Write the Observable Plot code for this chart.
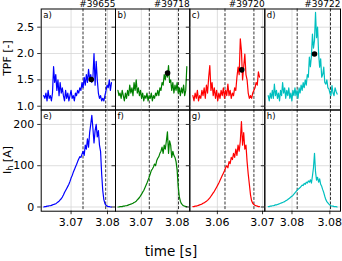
<!DOCTYPE html>
<html><head><meta charset="utf-8">
<script src="https://cdn.jsdelivr.net/npm/d3@7"></script>
<script src="https://cdn.jsdelivr.net/npm/@observablehq/plot@0.6"></script>
<style>
html,body{margin:0;padding:0;background:#fff;}
#fig{position:relative;width:342px;height:261px;font-family:"DejaVu Sans",sans-serif;overflow:hidden;}
#fig svg{position:absolute;left:0;top:0;overflow:visible;}
</style></head><body><div id="fig"></div>
<script>
// ---------- data ----------
const shots = ["#39655", "#39718", "#39720", "#39722"];
const letters = [["a)", "b)", "c)", "d)"], ["e)", "f)", "g)", "h)"]];
const colors = ["#0000ff", "#008000", "#ff0000", "#00bfbf"];
const xDomains = [[3.0618, 3.0822], [3.0628, 3.0835], [3.0539, 3.0705], [3.06859, 3.08699]];
const xTicks = [[3.07, 3.08], [3.07, 3.08], [3.06, 3.07], [3.0752, 3.0844]];
const tStart = [3.0625, 3.06347, 3.05458, 3.06942];
const tStep = [0.0003, 0.0003, 0.00025, 0.00025];

const tpfA = [1.2,1.15,1.25,1.1,1.3,1.15,1.2,1.1,1.25,1.75,1.45,1.6,1.3,1.5,1.2,1.45,1.25,1.35,1.2,1.1,1.3,1.15,1.25,1.1,1.2,1.3,1.15,1.2,1.1,1.25,1.2,1.3,1.25,1.35,1.3,1.45,1.35,1.55,1.4,1.6,1.45,1.7,1.5,1.6,1.45,1.55,2.0,1.4,1.85,1.5,1.25,1.15,1.2,1.1,1.15,1.1,1.2,1.3,1.4,1.35,1.5,1.3,1.45];
const tpfB = [1.3,1.2,1.25,1.15,1.3,1.2,1.1,1.25,1.15,1.3,1.2,1.4,1.25,1.35,1.2,1.45,1.3,1.5,1.25,1.35,1.2,1.3,1.15,1.25,1.1,1.2,1.15,1.25,1.1,1.2,1.15,1.25,1.1,1.2,1.15,1.25,1.2,1.3,1.2,1.35,1.3,1.45,1.4,1.6,1.5,1.65,1.55,1.77,1.45,1.5,1.3,1.45,1.25,1.4,1.3,1.45,1.25,1.35,1.2,1.35,1.25,1.4,1.2,1.3,1.75];
const tpfC = [1.2,1.1,1.25,1.15,1.3,1.1,1.2,1.15,1.3,1.2,1.35,1.15,1.4,1.25,1.55,1.77,1.3,1.45,1.2,1.35,1.15,1.3,1.1,1.25,1.15,1.3,1.2,1.35,1.15,1.3,1.2,1.42,1.2,1.3,1.15,1.25,1.2,1.35,1.3,1.55,1.74,1.6,2.28,2.05,1.5,1.75,1.99,1.6,1.5,1.25,1.15,1.2,1.15,1.25,1.3,1.35,1.45,1.4,1.65,1.55];
const tpfD = [1.2,1.1,1.25,1.15,1.3,1.15,1.42,1.2,1.3,1.15,1.25,1.1,1.3,1.2,1.45,1.25,1.35,1.15,1.3,1.2,1.35,1.15,1.25,1.1,1.3,1.2,1.35,1.2,1.3,1.15,1.35,1.25,1.4,1.3,1.45,1.35,1.5,1.4,1.6,1.55,1.93,1.75,1.95,2.37,2.1,2.25,2.78,2.3,2.5,2.0,1.74,1.9,1.55,1.6,1.74,1.45,1.42,1.5,1.35,1.33,1.25,1.2,1.39,1.25,1.2,1.35,1.28,1.23];

const ihA = [0,1,1,2,2,3,3,4,5,6,7,8,10,12,14,17,20,24,29,35,40,45,50,55,62,70,76,84,90,97,103,110,116,122,120,128,135,125,150,140,165,145,180,200,222,190,155,185,200,170,185,150,135,80,40,18,8,4,2,1,1,0,0];
const ihB = [0,0,1,1,1,2,2,3,3,4,5,6,7,8,9,11,12,14,17,20,23,27,31,36,40,46,52,58,65,72,80,88,92,97,104,100,112,118,122,130,135,145,130,150,140,160,182,130,160,150,120,135,125,120,110,90,50,25,14,8,5,3,2,1,1];
const ihC = [1,1,2,2,3,4,5,6,7,9,10,12,14,16,19,22,26,30,34,38,43,48,53,58,64,70,76,82,88,95,100,95,110,105,120,115,130,120,140,125,150,135,160,207,150,180,140,150,110,80,55,30,15,9,6,4,3,2,1,1];
const ihD = [1,1,2,2,3,3,4,5,5,6,7,8,9,10,11,12,13,15,16,18,20,22,24,26,28,31,34,37,40,43,45,47,50,53,52,57,55,60,58,63,60,66,58,75,95,130,85,65,72,60,68,55,50,42,35,26,18,13,10,7,5,3,2,2,1,1,1,0];

const markerT = [3.07555, 3.07731, 3.0654, 3.08067];
const markerTPF = [1.506, 1.63, 1.69, 1.99];
const dashT = [[3.07328, 3.07951], [3.07222, 3.08036], [3.06169, 3.06809], [3.07646, 3.08456]];

const tpfDomain = [0.928, 2.845], tpfTicks = [1.0, 1.5, 2.0, 2.5];
const ihDomain = [-10.2, 235], ihTicks = [0, 100, 200];

// ---------- layout ----------
const W = 342, H = 261;
const colL = [40.7, 115, 189.3, 264.3], colR = [115, 189.3, 264.3, 340];
const rowT = [8.5, 109.5], rowB = [109.5, 210.7];
const tpfSeries = [tpfA, tpfB, tpfC, tpfD], ihSeries = [ihA, ihB, ihC, ihD];
const fig = document.getElementById("fig");
const grid = {stroke: "#d6d6d6", strokeOpacity: 1, strokeWidth: 0.8};

for (let r = 0; r < 2; r++) for (let c = 0; c < 4; c++) {
  const vals = (r === 0 ? tpfSeries : ihSeries)[c];
  const data = vals.map((v, i) => ({t: tStart[c] + i * tStep[c], v}));
  const yDom = r === 0 ? tpfDomain : ihDomain;
  const yT = r === 0 ? tpfTicks : ihTicks;
  const yFmt = r === 0 ? d3.format(".1f") : d3.format("d");
  const marks = [
    Plot.gridX({ticks: xTicks[c], ...grid}),
    Plot.gridY({ticks: yT, ...grid}),
    Plot.ruleX(dashT[c], {stroke: "#000", strokeWidth: 0.8, strokeDasharray: "3,1.6"}),
    Plot.line(data, {x: "t", y: "v", stroke: colors[c], strokeWidth: 1.2, clip: true}),
    Plot.axisY({ticks: yT, tickSize: 3.5, tickPadding: 3.5, tickFormat: c === 0 ? yFmt : () => "", fontSize: 11, label: null, stroke: "#000", strokeWidth: 0.8}),
    Plot.frame({stroke: "#000", strokeWidth: 1}),
    Plot.text([letters[r][c]], {frameAnchor: "top-left", dx: 2, dy: 3, fontSize: 8.5, textAnchor: "start", lineAnchor: "top", fill: "#000"})
  ];
  if (r === 0) {
    marks.push(Plot.dot([{t: markerT[c], v: markerTPF[c]}], {x: "t", y: "v", r: 2.8, fill: "#000"}));
    marks.push(Plot.text([shots[c]], {frameAnchor: "top-right", dy: -2, lineAnchor: "bottom", textAnchor: "end", fontSize: 9, fill: "#000"}));
  } else {
    marks.push(Plot.axisX({ticks: xTicks[c], tickSize: 3.5, tickPadding: 3.5, tickFormat: d3.format(".2f"), fontSize: 11, label: null, stroke: "#000", strokeWidth: 0.8}));
  }
  const svg = Plot.plot({
    width: W, height: H,
    marginLeft: colL[c], marginRight: W - colR[c], marginTop: rowT[r], marginBottom: H - rowB[r],
    x: {domain: xDomains[c], axis: null},
    y: {domain: yDom, axis: null},
    style: {background: "transparent", fontFamily: "DejaVu Sans", color: "#000", overflow: "visible"},
    marks
  });
  fig.appendChild(svg);
}

// axis titles
const ov = d3.select(fig).append("svg").attr("width", W).attr("height", H)
  .style("font-family", "DejaVu Sans");
ov.append("text").attr("transform", "translate(11,58) rotate(-90)").attr("text-anchor", "middle")
  .attr("font-size", 11).attr("fill", "#000").text("TPF [-]");
const ih = ov.append("text").attr("transform", "translate(11,160) rotate(-90)").attr("text-anchor", "middle")
  .attr("font-size", 11).attr("fill", "#000");
ih.append("tspan").text("I");
ih.append("tspan").attr("font-size", 8).attr("dy", 2.2).text("h");
ih.append("tspan").attr("dy", -2.2).text(" [A]");
ov.append("text").attr("x", 171).attr("y", 256).attr("text-anchor", "middle")
  .attr("font-size", 13.5).attr("fill", "#000").text("time [s]");
</script></body></html>
